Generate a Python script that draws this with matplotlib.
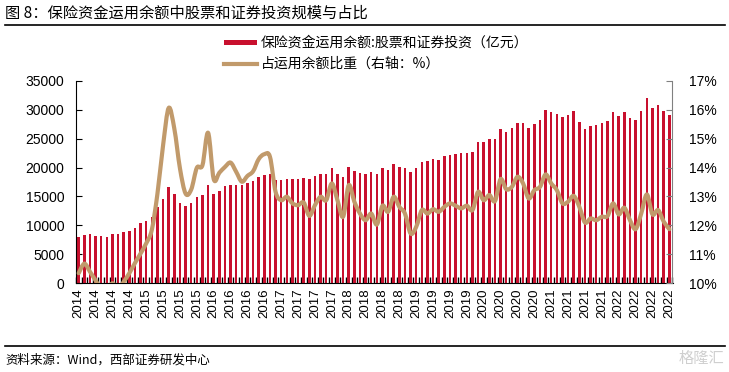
import numpy as np
import matplotlib
matplotlib.use('Agg')
import matplotlib.pyplot as plt
from matplotlib.path import Path
from matplotlib.patches import PathPatch, Rectangle
from matplotlib.lines import Line2D

# ---------------------------------------------------------------------------
# data: monthly, Jan 2014 - Oct 2022
# ---------------------------------------------------------------------------
years = list(range(2014, 2023))

# 保险资金运用余额:股票和证券投资（亿元）
stock_balance = [
    7990, 8330, 8500, 8160, 8160, 7990, 8500, 8500, 8850, 9020, 9540, 10460,
    10750, 11440, 13160, 14540, 16610, 15400, 13850, 13330, 13850, 14890, 15230, 16950,
    15400, 15920, 16780, 16950, 16950, 16950, 17300, 17640, 18330, 18680, 18850, 17900,
    17820, 17990, 17990, 17990, 18160, 17990, 18510, 18850, 18850, 19890, 18850, 18330,
    20060, 19370, 19020, 18850, 19200, 18850, 19890, 19540, 20580, 20060, 19890, 19200,
    19890, 20920, 21090, 21440, 21260, 21950, 22130, 22300, 22470, 22470, 22640, 24370,
    24370, 24890, 24890, 26610, 26090, 26780, 27640, 27640, 26780, 27470, 28160, 29890,
    29540, 29200, 28680, 29020, 29710, 27820, 26610, 27130, 27300, 27640, 27990, 29540,
    28850, 29540, 28510, 28160, 29710, 31950, 30230, 30750, 29710, 29020,
]

# 占运用余额比重（%）
stock_share = [
    10.35, 10.68, 10.40, 10.10, 9.80, 9.75, 10.00, 9.80, 10.05, 10.35, 10.70, 11.03,
    11.38, 11.85, 13.10, 14.77, 16.06, 15.34, 13.97, 13.10, 13.24, 13.99, 14.08, 15.20,
    13.60, 13.82, 14.02, 14.17, 13.85, 13.51, 13.71, 13.87, 14.29, 14.46, 14.37, 13.16,
    12.87, 12.99, 12.76, 12.70, 12.79, 12.33, 12.70, 12.99, 12.87, 13.45, 12.87, 12.30,
    13.39, 12.82, 12.41, 12.18, 12.41, 12.03, 12.68, 12.47, 12.99, 12.64, 12.41, 11.72,
    11.95, 12.53, 12.41, 12.56, 12.47, 12.64, 12.76, 12.68, 12.59, 12.68, 12.53, 13.16,
    12.87, 13.05, 12.84, 13.60, 13.25, 13.33, 13.68, 13.45, 12.93, 13.22, 13.33, 13.76,
    13.45, 13.22, 12.76, 12.82, 13.02, 12.64, 12.10, 12.24, 12.18, 12.30, 12.32, 12.76,
    12.38, 12.61, 12.18, 11.87, 12.41, 13.07, 12.38, 12.53, 12.13, 11.87,
]

left_ticks = [0, 5000, 10000, 15000, 20000, 25000, 30000, 35000]
right_ticks = [10, 11, 12, 13, 14, 15, 16, 17]

BAR_COLOR = '#C8102E'
LINE_COLOR = '#C19A6B'
CJK = ['Noto Sans CJK SC', 'DejaVu Sans']
NUM = ['Liberation Sans', 'DejaVu Sans']

W, H = 729, 372


def smooth_path(xs, ys):
    """Excel-like smoothed line as cubic bezier segments (Catmull-Rom)."""
    pts = np.column_stack([xs, ys]).astype(float)
    n = len(pts)
    verts = [pts[0]]
    codes = [Path.MOVETO]
    for i in range(n - 1):
        p0 = pts[max(i - 1, 0)]
        p1 = pts[i]
        p2 = pts[i + 1]
        p3 = pts[min(i + 2, n - 1)]
        verts += [p1 + (p2 - p0) / 6.0, p2 - (p3 - p1) / 6.0, p2]
        codes += [Path.CURVE4] * 3
    return Path(verts, codes)


fig = plt.figure(figsize=(W / 100, H / 100), dpi=100)
ax = fig.add_axes([75.5 / W, 1 - 283.3 / H, (672.5 - 75.5) / W, (283.3 - 80.7) / H])

x = np.arange(len(stock_balance))
ax.bar(x, stock_balance, width=0.45, color=BAR_COLOR, zorder=2)
ax.set_xlim(-0.57, len(x) - 0.44)
ax.set_ylim(0, 35000)
ax.set_yticks(left_ticks)
ax.set_yticklabels([str(v) for v in left_ticks], fontsize=10, family=NUM)

# x labels every 3 months, minor ticks at month boundaries
major = x[::3]
ax.set_xticks(major)
ax.set_xticklabels([str(years[0] + i // 12) for i in major], rotation=90,
                   fontsize=9.5, family=NUM)
ax.set_xticks(np.arange(-0.5, len(x), 1), minor=True)
ax.tick_params(axis='x', which='major', length=0, pad=4)
ax.tick_params(axis='x', which='minor', direction='in', length=4, width=1)
ax.tick_params(axis='y', direction='in', length=4, pad=8)

ax2 = ax.twinx()
ax2.set_ylim(10, 17)
ax2.set_yticks(right_ticks)
ax2.set_yticklabels([f'{v}%' for v in right_ticks], fontsize=10, family=NUM)
ax2.tick_params(axis='y', direction='in', length=4, color='#808080', pad=12)
ax2.add_patch(PathPatch(smooth_path(x, stock_share), fill=False, edgecolor=LINE_COLOR,
                        lw=3, capstyle='round', joinstyle='round', zorder=3))

for a in (ax, ax2):
    a.spines['top'].set_visible(False)
ax.spines['right'].set_visible(False)
ax2.spines['left'].set_visible(False)
ax2.spines['bottom'].set_visible(False)
ax2.spines['right'].set_color('#808080')

# ---------------------------------------------------------------------------
# header, legend and footer
# ---------------------------------------------------------------------------
fig.text(5 / W, 1 - 13 / H, '图 8：保险资金运用余额中股票和证券投资规模与占比',
         fontsize=11, family=CJK, va='center', ha='left')
fig.add_artist(Line2D([5 / W, 725 / W], [1 - 25 / H, 1 - 25 / H], color='black', lw=1.2))

fig.add_artist(Rectangle((224 / W, 1 - 45 / H), 33 / W, 5 / H, color=BAR_COLOR, lw=0))
fig.text(261 / W, 1 - 42.5 / H, '保险资金运用余额:股票和证券投资（亿元）',
         fontsize=10, family=CJK, va='center', ha='left')
fig.add_artist(Line2D([224 / W, 257 / W], [1 - 63.5 / H, 1 - 63.5 / H],
                      color=LINE_COLOR, lw=3))
fig.text(261 / W, 1 - 63.5 / H, '占运用余额比重（右轴：%）',
         fontsize=10, family=CJK, va='center', ha='left')

fig.add_artist(Line2D([5 / W, 725 / W], [1 - 346 / H, 1 - 346 / H], color='black', lw=1.2))
fig.text(5 / W, 1 - 360 / H, '资料来源：Wind，西部证券研发中心',
         fontsize=9, family=CJK, va='center', ha='left')
fig.text(724 / W, 1 - 358 / H, '格隆汇', fontsize=11, family=CJK, color='#cfcfcf',
         va='center', ha='right')

fig.savefig('out.png', dpi=100)
plt.close(fig)
